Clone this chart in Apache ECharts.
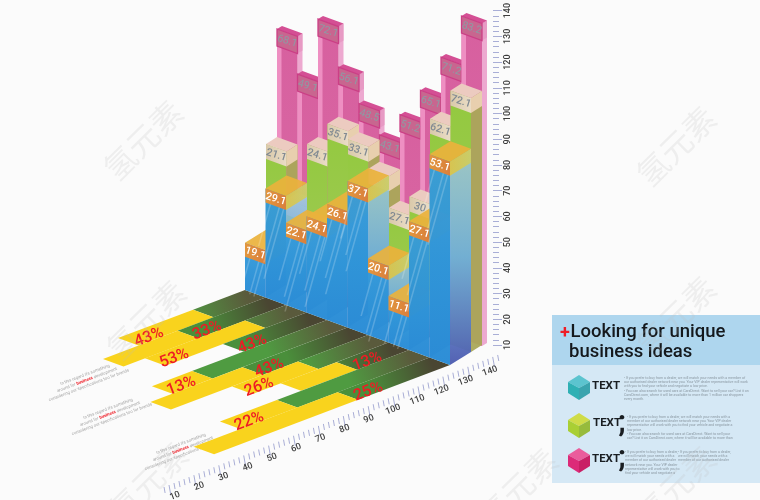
<!DOCTYPE html>
<html><head><meta charset="utf-8">
<style>html,body{margin:0;padding:0;background:#fbfbfb}#c{width:760px;height:500px}</style>
<script src="https://cdn.jsdelivr.net/npm/echarts@6/dist/echarts.min.js"></script>
</head><body><div id="c"></div>
<script>
// ---- data ----
var columns = [0,1,2,3,4,5,6,7,8,9];
// bar heights measured on the drawn vertical axis
var blueHeights  = [18.4,42.4,32,37.4,45.2,57,29.7,18.1,50.1,79];
var greenHeights = [51.7,33,57.5,68.3,65.2,56.7,44.4,51.7,84.9,98.8];
var pinkHeights  = [94.1,79.5,103.8,88,76.8,67.5,78.3,90.7,106.5,125.4];
// numbers printed on the bars
var blueLabels  = ['19.1','29.1','22.1','24.1','26.1','37.1','20.1','11.1','27.1','53.1'];
var greenLabels = ['21.1','','24.1','35.1','33.1','','27.1','30','62.1','72.1'];
var pinkLabels  = ['68.1','49.1','72.1','56.1','48.5','43.1','51.2','65.1','71.2','83.2'];
// floor strips: total length and green part, in floor-axis units
var floorTotals = [52.6,67.3,58.4,34.6,72.5,81.6,56.3,44.7,78.3,97.7];
var floorGreens = [21.5,36.4,17,34.6,55.9,43.5,29,21.5,54.7,38.1];
var floorTexts  = ['43%','33%','53%','43%','13%','43%','26%','13%','22%','25%'];
var floorTextAt = [44,28.4,50.5,26.7,64.6,36.6,49.3,13,70.4,29.6];
var floorTicks  = [10,20,30,40,50,60,70,80,90,100,110,120,130,140];

// ---- projection constants ----
var WALL_Y = 290, WALL_SLOPE = 7.5;     // px of wall base at col 0 / per column
var DIR = [-2.415, 0.913];              // floor axis: px per unit, towards viewer
var layers = {
  blue:  {off:[0,0],    d:[21,-13], cap:14},
  green: {off:[21,-13], d:[11,-7],  cap:15},
  pink:  {off:[32,-19], d:[5,-3],   cap:17}
};
var LG = function(stops,x2,y2){ return new echarts.graphic.LinearGradient(0,0,x2===undefined?0:x2,y2===undefined?1:y2,stops.map(function(c,i){return {offset:i/(stops.length-1),color:c};})); };
var FONT = 'Roboto, "Liberation Sans", sans-serif';

function poly(pts,fill,extra){
  var o = {type:'polygon',shape:{points:pts},style:{fill:fill}};
  if(extra){ for(var k in extra) o.style[k]=extra[k]; }
  return o;
}
function add(p,v,s){ return [p[0]+v[0]*(s||1), p[1]+v[1]*(s||1)]; }

function barRender(name, heights, labels, look){
  var L = layers[name];
  return function(params, api){
    var c = api.value(0), h = api.value(1);
    var w = api.size([1,0])[0], px = api.size([0,h])[1];
    var x = api.coord([c,10])[0] + L.off[0], yb = WALL_Y + WALL_SLOPE*c + L.off[1];
    var D=[x,yb], C=[x+w,yb+WALL_SLOPE], A=[x,yb-px], B=[x+w,yb+WALL_SLOPE-px];
    var cap=L.cap, A2=[A[0],A[1]+cap], B2=[B[0],B[1]+cap], d=L.d;
    var ch=[];
    // side
    ch.push(poly([B,add(B,d),add(C,d),C],look.side));
    // front
    ch.push(poly([A,B,C,D],look.front));
    if(look.strip) ch.push(poly([A,[A[0]+4.5,A[1]+1.6],[D[0]+4.5,D[1]+1.6],D],look.strip));
    if(look.streak){
      [0.2,0.55,0.85].forEach(function(f,i){
        var top=[x+w*f+ (i==1?2:0), A2[1]+WALL_SLOPE*f];
        var len=Math.min(px-cap, 42+i*14);
        var bx=top[0]-len*0.28, by=top[1]+len;
        ch.push(poly([top,[top[0]+1.6,top[1]],[bx+1.6,by],[bx,by]],'rgba(255,255,255,0.2)'));
      });
    }
    // cap
    ch.push(poly([B,add(B,d),add(B2,d),B2],look.capSide));
    ch.push(poly([A,B,add(B,d),add(A,d)],look.capTop));
    ch.push(poly([A,B,B2,A2],look.capFront,look.capStroke?{stroke:look.capStroke,lineWidth:1.3}:null));
    var t=labels[c];
    if(t) ch.push({type:'text',z2:20,x:x+w/2,y:A[1]+WALL_SLOPE/2+cap/2,rotation:-0.3,
      style:{text:t,fill:look.text,font:look.font||('500 10.5px '+FONT),align:'center',verticalAlign:'middle'}});
    return {type:'group',children:ch};
  };
}
function barData(h){ return columns.map(function(c){return [c,h[c]];}); }

var looks = {
  pink:{front:LG(['#d7609f','#d968a4']),strip:'#ee8fc2',side:'#eda9d0',capTop:'#d44f94',capSide:'#e79ac4',
        capFront:'#c8668f',capStroke:'#cb3f86',text:'#8d9ba4',font:'400 10.5px '+FONT},
  green:{front:LG(['#93c93f','#a2c95a']),side:'rgba(170,168,88,0.95)',capTop:'#eccbc0',capSide:'#e8cfae',
        capFront:LG(['#d9c9aa','#eadcc6'],1,0),text:'#818a92'},
  blue:{front:LG(['rgba(56,156,218,0.95)','rgba(46,148,216,0.97)','rgba(42,140,214,0.98)']),
        side:LG(['rgba(160,198,226,0.8)','rgba(110,172,224,0.9)','rgba(78,92,176,0.97)']),
        capTop:'rgba(234,178,60,0.92)',capSide:LG(['rgba(226,196,60,0.85)','rgba(208,206,90,0.85)'],1,0),
        capFront:LG(['#e2963e','#d97f3c'],1,0),text:'#ffffff',streak:true}
};

function strip(i,a,b){
  var x0=245+20.5*i, y0=WALL_Y+WALL_SLOPE*i, x1=x0+20.5, y1=y0+WALL_SLOPE;
  return [[x0+DIR[0]*a,y0+DIR[1]*a],[x1+DIR[0]*a,y1+DIR[1]*a],[x1+DIR[0]*b,y1+DIR[1]*b],[x0+DIR[0]*b,y0+DIR[1]*b]];
}
function floorRender(params,api){
  var i=api.value(0),tot=api.value(1),gr=api.value(2),at=api.value(3);
  var ch=[];
  var p=strip(i,0,gr), s=p[0];
  var mid=i%2?'#4a8f3b':'#4f9b41', dark=i%2?'#4a4632':'#5a5a3c';
  ch.push(poly(p,{type:'linear',global:true,x:s[0],y:s[1],x2:s[0]+DIR[0]*26,y2:s[1]+DIR[1]*26,
    colorStops:[{offset:0,color:dark},{offset:1,color:mid}]}));
  if(tot>gr) ch.push(poly(strip(i,gr,tot),'#f9d31d'));
  var cx=245+20.5*(i+.5)+DIR[0]*at, cy=WALL_Y+WALL_SLOPE*(i+.5)+DIR[1]*at+3.5;
  ch.push({type:'text',x:cx,y:cy,rotation:0.36,z2:10,style:{text:floorTexts[i],fill:'#ee1c25',
    font:'500 16px '+FONT,align:'center',verticalAlign:'middle'}});
  return {type:'group',children:ch};
}
// floor axis ticks every 2 units
var floorTickVals=[]; (function(){for(var u=8;u<=142;u+=2)floorTickVals.push(u);})();
function axisRender(params,api){
  var u=api.value(0), major=u%10===0;
  var tx=169+(u-10)*2.49, ty=485-(u-10)*0.985, len=major?10:6;
  var ch=[{type:'line',shape:{x1:tx,y1:ty,x2:tx+len*0.18,y2:ty+len},style:{stroke:'#a9aed6',lineWidth:1}}];
  if(major) ch.push({type:'text',x:175+(u-10)*2.423,y:496-(u-10)*0.96,rotation:0.36,
    style:{text:String(u),fill:'#3d3d3d',font:'500 9px '+FONT,align:'center',verticalAlign:'middle'}});
  return {type:'group',children:ch};
}

// ---- static decorations ----
var graphics=[];
function txt(x,y,t,font,fill,extra){
  var o={type:'text',x:x,y:y,style:{text:t,font:font,fill:fill,align:'left',verticalAlign:'middle'}};
  if(extra) for(var k in extra){ if(k==='style'){for(var j in extra.style)o.style[j]=extra.style[j];} else o[k]=extra[k]; }
  return o;
}
// panel
graphics.push({type:'rect',shape:{x:552,y:315,width:208,height:168},style:{fill:'#d5e8f5'}});
graphics.push({type:'rect',shape:{x:552,y:315,width:208,height:50},style:{fill:'#aed6ee'}});
graphics.push(txt(560,333,'+','bold 18px '+FONT,'#ee1c25'));
graphics.push(txt(570.5,332,'Looking for unique','500 18.5px '+FONT,'#14181c'));
graphics.push(txt(569,352,'business ideas','500 18.5px '+FONT,'#14181c'));
function cube(cy,top,l,r){
  var cx=579;
  graphics.push({type:'polygon',shape:{points:[[cx,cy],[cx+11,cy+7],[cx,cy+13],[cx-11,cy+7]]},style:{fill:top}});
  graphics.push({type:'polygon',shape:{points:[[cx-11,cy+7],[cx,cy+13],[cx,cy+25],[cx-11,cy+18]]},style:{fill:l}});
  graphics.push({type:'polygon',shape:{points:[[cx+11,cy+7],[cx,cy+13],[cx,cy+25],[cx+11,cy+18]]},style:{fill:r}});
}
cube(375,'#5cc4cf','#2fb0b4','#3aa4ae');
cube(413,'#cfdc48','#a9cf34','#97bb3c');
cube(448,'#ea5c9c','#dc2a78','#c91f65');
graphics.push(txt(592,386,'TEXT','bold 11.5px '+FONT,'#1a1e22'));
graphics.push(txt(593,423,'TEXT','bold 11.5px '+FONT,'#1a1e22'));
graphics.push(txt(592,459,'TEXT','bold 11.5px '+FONT,'#1a1e22'));
graphics.push(txt(618,423,';','bold 30px '+FONT,'#1a1e22'));
graphics.push(txt(618,458,';','bold 30px '+FONT,'#1a1e22'));
var small=function(x,y,t){graphics.push({type:'text',x:x,y:y,style:{text:t,font:'3.5px '+FONT,fill:'#8b98a2',align:'left',verticalAlign:'top',lineHeight:4.2}});};
small(624,376,"- If you prefer to buy from a dealer, we will match your needs with a member of\nour authorised dealer network near you. Your VIP dealer representative will work\nwith you to find your vehicle and negotiate a low price.\n- You can also search for used cars at CarsDirect. Want to sell your car? List it on\nCarsDirect.com, where it will be available to more than 1 million car shoppers\nevery month.");
small(627,415,"- If you prefer to buy from a dealer, we will match your needs with a\nmember of our authorised dealer network near you. Your VIP dealer\nrepresentative will work with you to find your vehicle and negotiate a\nlow price.\n- You can also search for used cars at CarsDirect. Want to sell your\ncar? List it on CarsDirect.com, where it will be available to more than");
small(625,450,"- If you prefer to buy from a dealer,\nwe will match your needs with a\nmember of our authorised dealer\nnetwork near you. Your VIP dealer\nrepresentative will work with you to\nfind your vehicle and negotiate a");
small(678,450,"- If you prefer to buy from a dealer,\nwe will match your needs with a\nmember of our authorised dealer");
// small slanted captions
function caption(x,y){
  graphics.push({type:'text',x:x,y:y,rotation:0.36,style:{
    text:"In this regard it's something\naround for {r|business} development\nconsidering our specifications too for brands",
    font:'4.3px '+FONT,fill:'#a8a8a8',align:'center',verticalAlign:'middle',lineHeight:5.5,
    rich:{r:{font:'bold 4.3px '+FONT,fill:'#ee1c25',lineHeight:5.5}}}});
}
caption(87,380);caption(110,414);caption(183,449);
// watermarks
[[143,140],[676,146],[146,320],[676,316],[148,482],[518,488],[676,486]].forEach(function(p){
  graphics.push({type:'text',x:p[0],y:p[1],rotation:0.78,z:200,silent:true,style:{text:'氢元素',
    font:'32px "Noto Sans CJK SC"',fill:'rgba(190,190,190,0.2)',align:'center',verticalAlign:'middle'}});
});

var chart=echarts.init(document.getElementById('c'),null,{renderer:'canvas'});
chart.setOption({
  animation:false,
  backgroundColor:'#fbfbfb',
  grid:{left:245,width:205,top:8,height:337},
  xAxis:{type:'value',min:0,max:10,show:false},
  yAxis:{type:'value',min:10,max:140,interval:10,position:'right',offset:43,
    axisLine:{show:false,onZero:false},splitLine:{show:false},
    axisTick:{show:true,length:9,inside:false,lineStyle:{color:'#a9aed6',width:1}},
    minorTick:{show:true,splitNumber:5,length:6,lineStyle:{color:'#a9aed6',width:1}},
    minorSplitLine:{show:false},
    axisLabel:{rotate:90,margin:10,fontSize:9,fontWeight:500,fontFamily:FONT,color:'#3d3d3d'}},
  series:[
    {type:'custom',z:1,silent:true,renderItem:floorRender,encode:{x:0,y:1},
     data:columns.map(function(c){return [c,floorTotals[c],floorGreens[c],floorTextAt[c]];})},
    {type:'custom',z:1,silent:true,renderItem:axisRender,encode:{x:0},
     data:floorTickVals.map(function(u){return [u,10];})},
    {type:'custom',z:2,silent:true,renderItem:barRender('pink',pinkHeights,pinkLabels,looks.pink),encode:{x:0,y:1},data:barData(pinkHeights)},
    {type:'custom',z:3,silent:true,renderItem:barRender('green',greenHeights,greenLabels,looks.green),encode:{x:0,y:1},data:barData(greenHeights)},
    {type:'custom',z:4,silent:true,renderItem:barRender('blue',blueHeights,blueLabels,looks.blue),encode:{x:0,y:1},data:barData(blueHeights)}
  ],
  graphic:graphics
});
</script></body></html>
